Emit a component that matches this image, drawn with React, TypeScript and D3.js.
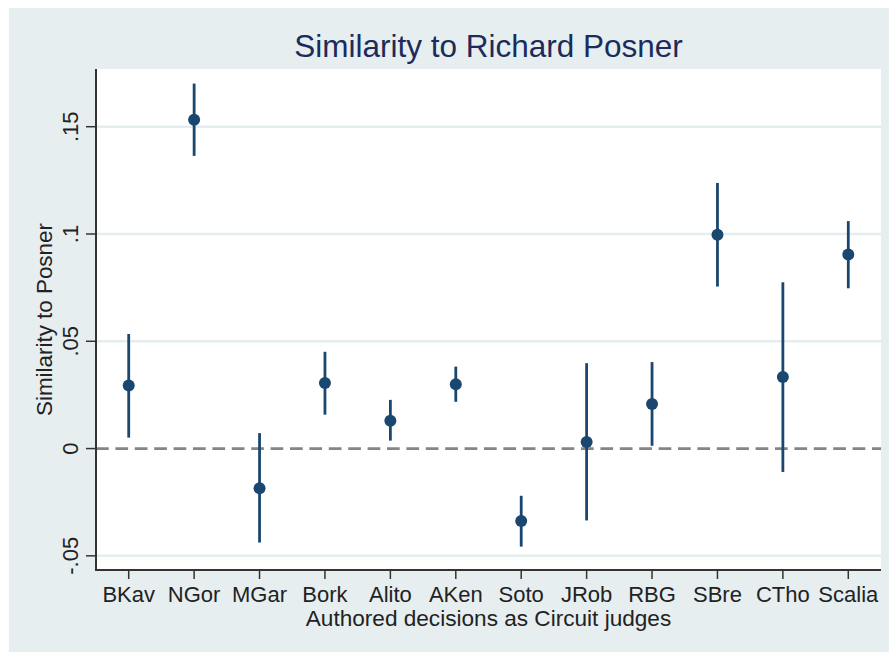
import * as d3 from 'd3';

// judges along the x axis
const judges = ['BKav', 'NGor', 'MGar', 'Bork', 'Alito', 'AKen', 'Soto', 'JRob', 'RBG', 'SBre', 'CTho', 'Scalia'];
// point estimates and 95% interval bounds
const estimates = [0.0294, 0.1533, -0.0185, 0.0305, 0.013, 0.03, -0.0338, 0.0031, 0.0208, 0.0996, 0.0334, 0.0904];
const upper = [0.0534, 0.1701, 0.0072, 0.0451, 0.0227, 0.0382, -0.022, 0.0398, 0.0403, 0.1238, 0.0775, 0.106];
const lower = [0.0051, 0.1364, -0.0438, 0.0158, 0.0037, 0.0218, -0.0457, -0.0335, 0.0013, 0.0755, -0.0109, 0.0747];
const yTicks = [-0.05, 0, 0.05, 0.1, 0.15];
const yTickLabels = ['-.05', '0', '.05', '.1', '.15'];

const W = 889;
const H = 652;
const margin = { top: 69, right: 8, bottom: 82, left: 96 };
const FONT = '"Liberation Sans", Arial, sans-serif';
const NAVY = '#1a476f';

export default function App() {
  const innerRight = W - margin.right;
  const innerBottom = H - margin.bottom;

  const x = d3.scaleLinear().domain([0.5, judges.length + 0.5]).range([margin.left, innerRight]);
  const y = d3.scaleLinear().domain([-0.0566, 0.1769]).range([innerBottom, margin.top]);

  return (
    <svg width={W} height={H} style={{ position: 'absolute', left: 0, top: 0 }} fontFamily={FONT}>
      <rect x={0} y={0} width={W} height={H} fill="#fff" />
      <rect x={9} y={8} width={W - 9} height={H - 8} fill="#e6eef0" />
      <rect x={margin.left} y={margin.top} width={innerRight - margin.left} height={innerBottom - margin.top} fill="#fff" />

      {/* grid lines */}
      {yTicks.filter(t => t !== 0).map(t => (
        <line key={t} x1={margin.left} x2={innerRight} y1={y(t)} y2={y(t)} stroke="#e4eef0" strokeWidth={2.5} />
      ))}

      {/* reference line at zero */}
      <line x1={margin.left} x2={innerRight} y1={y(0)} y2={y(0)} stroke="#858585" strokeWidth={2.7} strokeDasharray="12.7,6.7" />

      {/* error bars */}
      {judges.map((j, i) => (
        <g key={j}>
          <line x1={x(i + 1)} x2={x(i + 1)} y1={y(lower[i])} y2={y(upper[i])} stroke={NAVY} strokeWidth={2.8} />
          <circle cx={x(i + 1)} cy={y(estimates[i])} r={6} fill={NAVY} />
        </g>
      ))}

      {/* axes */}
      <line x1={margin.left} x2={margin.left} y1={margin.top} y2={innerBottom + 1} stroke="#333" strokeWidth={2} />
      <line x1={margin.left} x2={innerRight} y1={innerBottom} y2={innerBottom} stroke="#333" strokeWidth={2} />

      {yTicks.map((t, i) => (
        <g key={t}>
          <line x1={margin.left - 10} x2={margin.left} y1={y(t)} y2={y(t)} stroke="#333" strokeWidth={1.5} />
          <text
            transform={`translate(78,${y(t)}) rotate(-90)`}
            textAnchor="middle"
            fontSize={22}
            fill="#222"
          >
            {yTickLabels[i]}
          </text>
        </g>
      ))}

      {judges.map((j, i) => (
        <g key={j}>
          <line x1={x(i + 1)} x2={x(i + 1)} y1={innerBottom} y2={innerBottom + 9} stroke="#333" strokeWidth={1.5} />
          <text x={x(i + 1)} y={601.5} textAnchor="middle" fontSize={22} fill="#222">{j}</text>
        </g>
      ))}

      <text x={(margin.left + innerRight) / 2} y={626} textAnchor="middle" fontSize={22.6} fill="#222">
        Authored decisions as Circuit judges
      </text>
      <text
        transform={`translate(52,${(margin.top + innerBottom) / 2}) rotate(-90)`}
        textAnchor="middle"
        fontSize={22.4}
        fill="#222"
      >
        Similarity to Posner
      </text>

      <text x={(margin.left + innerRight) / 2} y={57} textAnchor="middle" fontSize={31.5} fill="#1c2b5a">
        Similarity to Richard Posner
      </text>
    </svg>
  );
}
